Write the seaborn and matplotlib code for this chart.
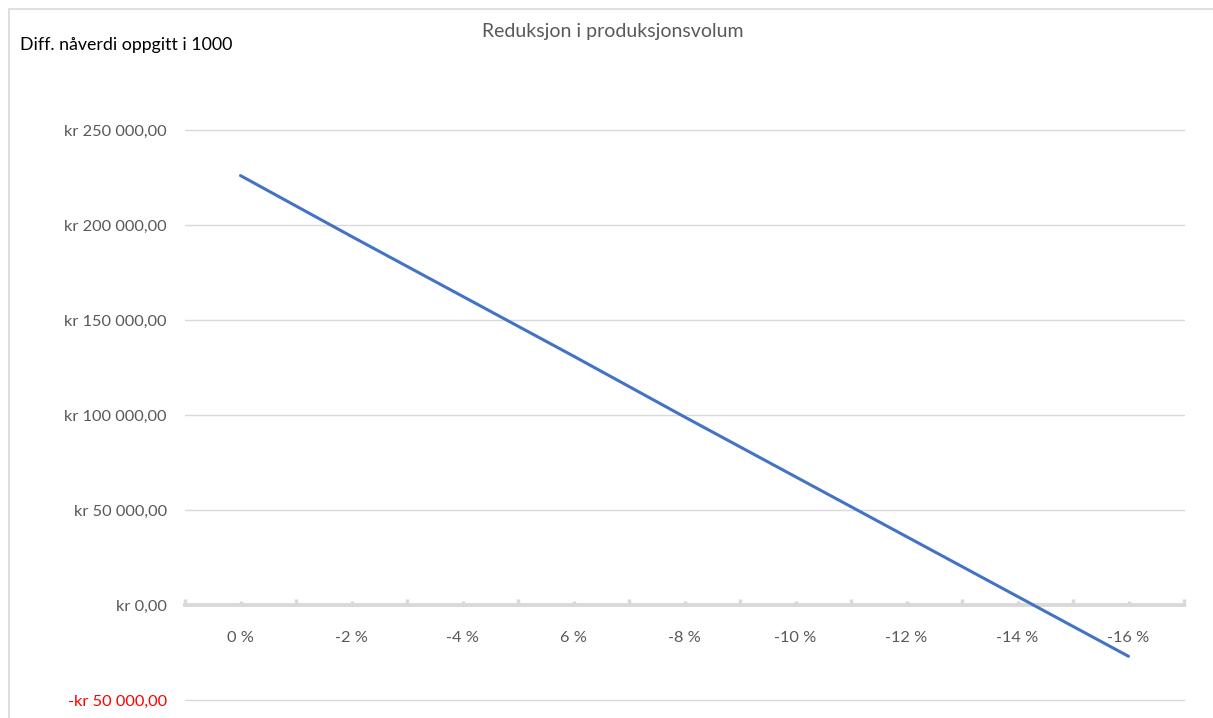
import matplotlib
matplotlib.use("Agg")
import matplotlib.pyplot as plt
from matplotlib.patches import Rectangle
from matplotlib.ticker import FixedLocator, FuncFormatter
import seaborn as sns
import pandas as pd

# Production volume reduction categories (axis labels as shown, incl. "6 %")
categories = ["0 %", "-2 %", "-4 %", "6 %", "-8 %", "-10 %", "-12 %", "-14 %", "-16 %"]
# Difference in net present value, in thousands of NOK
npv_diff = [226000, 194000, 162500, 131000, 99000, 67500, 36000, 4500, -27000]
y_ticks = [-50000, 0, 50000, 100000, 150000, 200000, 250000]

df = pd.DataFrame({"pos": range(len(categories)), "verdi": npv_diff})

sns.set_theme(style="white")
plt.rcParams["font.family"] = ["Lato", "DejaVu Sans"]

W, H = 1213, 718
fig = plt.figure(figsize=(W / 100, H / 100), dpi=100)
ax = fig.add_axes([185 / W, (H - 700) / H, 999 / W, 570 / H])

grey_txt = "#595959"
grid_col = "#d9d9d9"

# horizontal gridlines
for v in y_ticks:
    if v != 0:
        ax.axhline(v, color=grid_col, lw=1.0, zorder=0, clip_on=False)

sns.lineplot(data=df, x="pos", y="verdi", ax=ax, color="#4472C4", lw=2.2, zorder=3)

ax.set_xlim(-0.5, len(categories) - 0.5)
ax.set_ylim(-50000, 250000)

for s in ["top", "right", "left"]:
    ax.spines[s].set_visible(False)
ax.spines["bottom"].set_position(("data", 0))
ax.spines["bottom"].set_color(grid_col)
ax.spines["bottom"].set_linewidth(2.8)
ax.spines["bottom"].set_zorder(1)

ax.xaxis.set_major_locator(FixedLocator(list(range(len(categories)))))
ax.set_xticklabels(categories)
ax.xaxis.set_minor_locator(FixedLocator([i - 0.5 for i in range(len(categories) + 1)]))
ax.tick_params(axis="x", which="both", bottom=True)
ax.tick_params(axis="x", which="major", direction="in", length=3.2, width=2.5,
               color=grid_col, pad=19, labelsize=11.8, labelcolor=grey_txt)
ax.tick_params(axis="x", which="minor", direction="in", length=4.5, width=2.5, color=grid_col)

ax.set_yticks(y_ticks)


def kr(v, _pos=None):
    s = f"{abs(v):,.2f}".replace(",", " ").replace(".", ",")
    return ("-kr " if v < 0 else "kr ") + s


ax.yaxis.set_major_formatter(FuncFormatter(kr))
ax.tick_params(axis="y", length=0, pad=13, labelsize=11.8, labelcolor=grey_txt)
for lbl, v in zip(ax.get_yticklabels(), y_ticks):
    if v < 0:
        lbl.set_color("#ff0000")

ax.set_xlabel("")
ax.set_ylabel("")

fig.text(613 / W, 1 - 32 / H, "Reduksjon i produksjonsvolum", ha="center", va="center",
         fontsize=14, color=grey_txt)
fig.text(20 / W, 1 - 45 / H, "Diff. nåverdi oppgitt i 1000", ha="left", va="center",
         fontsize=12.8, color="black")

# chart-area frame
fig.patches.append(Rectangle((8.5 / W, -0.05), 1.1, 1 + 0.05 - 8.5 / H,
                             transform=fig.transFigure, fill=False,
                             edgecolor=grid_col, lw=1.2))

fig.savefig("out.png", dpi=100)
